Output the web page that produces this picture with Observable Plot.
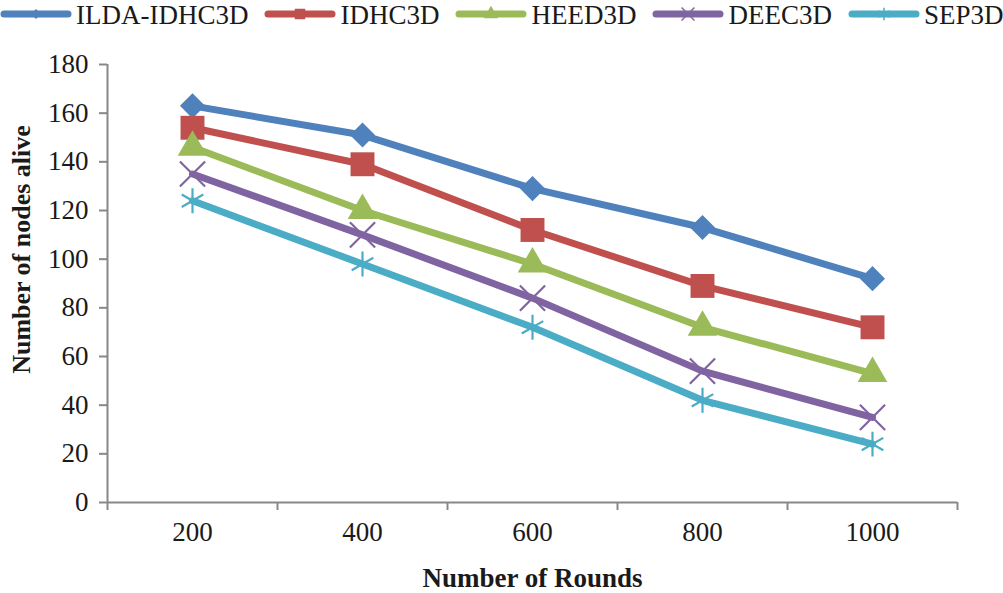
<!DOCTYPE html>
<html><head><meta charset="utf-8">
<script src="https://cdn.jsdelivr.net/npm/d3@7"></script>
<script src="https://cdn.jsdelivr.net/npm/@observablehq/plot@0.6"></script>
<style>
html,body{margin:0;padding:0;background:#fff;}
body{width:1003px;height:593px;overflow:hidden;font-family:'Liberation Serif','Times New Roman',serif;color:#1a1a1a;}
#legend{display:flex;align-items:flex-start;height:30px;margin:0;padding:0;}
.item{display:flex;align-items:flex-start;height:30px;margin-right:16px;}
.item svg{display:block;margin-right:4px;}
.item span{font-family:'Liberation Serif',serif;font-size:27px;line-height:30px;white-space:nowrap;}
</style>
</head><body>
<div id="legend"></div>
<div id="chart"></div>
<script>
// ---- data ----
const rounds = [200, 400, 600, 800, 1000];
const seriesNames = ["ILDA-IDHC3D", "IDHC3D", "HEED3D", "DEEC3D", "SEP3D"];
const ildaIdhc3d = [163, 151, 129, 113, 92];
const idhc3d = [154, 139, 112, 89, 72];
const heed3d = [146, 120, 98, 72, 53];
const deec3d = [135, 110, 84, 54, 35];
const sep3d = [124, 98, 72, 42, 24];
const yTicks = [0, 20, 40, 60, 80, 100, 120, 140, 160, 180];
const xBoundaries = [100, 300, 500, 700, 900, 1100];
const colors = ["#4f81bd", "#c0504d", "#9bbb59", "#8064a2", "#4bacc6"];
const xTitle = "Number of Rounds";
const yTitle = "Number of nodes alive";

// ---- styling per series ----
const valuesList = [ildaIdhc3d, idhc3d, heed3d, deec3d, sep3d];
const markerStyle = [
  {symbol: "square", rotate: 45, r: 10, filled: true},
  {symbol: "square", rotate: 0, r: 13.5, filled: true},
  {symbol: "triangle", rotate: 0, r: 11, filled: true},
  {symbol: "times", rotate: 0, r: 11.5, filled: false},
  {symbol: "asterisk", rotate: 0, r: 11.8, filled: false}
];

const rows = seriesNames.flatMap((name, s) =>
  rounds.map((round, i) => ({series: name, round, value: valuesList[s][i]})));

const axisColor = "#888888";
const textColor = "#1a1a1a";
const font = "'Liberation Serif', 'Times New Roman', serif";

const marks = [
  Plot.ruleY([0], {stroke: axisColor, strokeWidth: 2}),
  Plot.ruleX([100], {y1: 0, y2: 180, stroke: axisColor, strokeWidth: 2}),
  Plot.axisY({ticks: yTicks, tickSize: 8, tickPadding: 11, stroke: axisColor, strokeWidth: 2, fill: textColor, tickFormat: d => String(d), label: null, fontFamily: font}),
  Plot.axisX({ticks: xBoundaries, tickSize: 8, stroke: axisColor, strokeWidth: 2, tickFormat: () => "", label: null}),
  Plot.axisX({ticks: rounds, tickSize: 0, tickPadding: 19, fill: textColor, tickFormat: d => String(d), label: null, fontFamily: font})
];

seriesNames.forEach((name, s) => {
  const data = rows.filter(d => d.series === name);
  marks.push(Plot.line(data, {x: "round", y: "value", stroke: colors[s], strokeWidth: 7, strokeLinejoin: "round", strokeLinecap: "round"}));
  const m = markerStyle[s];
  marks.push(Plot.dot(data, {
    x: "round", y: "value", symbol: () => m.symbol, r: m.r, rotate: m.rotate,
    fill: m.filled ? colors[s] : "none",
    stroke: m.filled ? "none" : colors[s],
    strokeWidth: m.filled ? 0 : 2.2
  }));
});

marks.push(Plot.text([xTitle], {frameAnchor: "bottom", lineAnchor: "middle", textAnchor: "middle", dy: 76, fontWeight: "bold", fontSize: 27, fill: textColor, fontFamily: font}));
marks.push(Plot.text([yTitle], {frameAnchor: "left", textAnchor: "middle", lineAnchor: "middle", rotate: -90, dx: -86, dy: -34, fontWeight: "bold", fontSize: 26, fill: textColor, fontFamily: font}));

const chart = Plot.plot({
  width: 1003,
  height: 563,
  marginTop: 34,
  marginBottom: 91,
  marginLeft: 107,
  marginRight: 46,
  x: {type: "linear", domain: [100, 1100], label: null},
  y: {domain: [0, 180], label: null},
  symbol: {type: "identity"},
  style: {fontFamily: font, fontSize: "27px", background: "#fff", color: textColor, overflow: "visible"},
  marks
});
document.getElementById("chart").appendChild(chart);

// ---- legend ----
const legend = d3.select("#legend");
const legendSymbols = [
  {type: d3.symbolSquare, size: 50, rotate: 45, fill: true},
  {type: d3.symbolSquare, size: 110, rotate: 0, fill: true},
  {type: d3.symbolTriangle, size: 90, rotate: 0, fill: true},
  {type: d3.symbolTimes, size: 110, rotate: 0, fill: false},
  {type: d3.symbolAsterisk, size: 110, rotate: 0, fill: false}
];
seriesNames.forEach((name, s) => {
  const item = legend.append("div").attr("class", "item");
  const svg = item.append("svg").attr("width", 72).attr("height", 30);
  svg.append("line").attr("x1", 4).attr("x2", 68).attr("y1", 14).attr("y2", 14)
    .attr("stroke", colors[s]).attr("stroke-width", 7).attr("stroke-linecap", "round");
  const ls = legendSymbols[s];
  svg.append("path").attr("d", d3.symbol(ls.type, ls.size)())
    .attr("transform", `translate(36,14) rotate(${ls.rotate})`)
    .attr("fill", ls.fill ? colors[s] : "none")
    .attr("stroke", ls.fill ? "none" : colors[s]).attr("stroke-width", 1.5);
  item.append("span").text(name);
});
</script>
</body></html>
